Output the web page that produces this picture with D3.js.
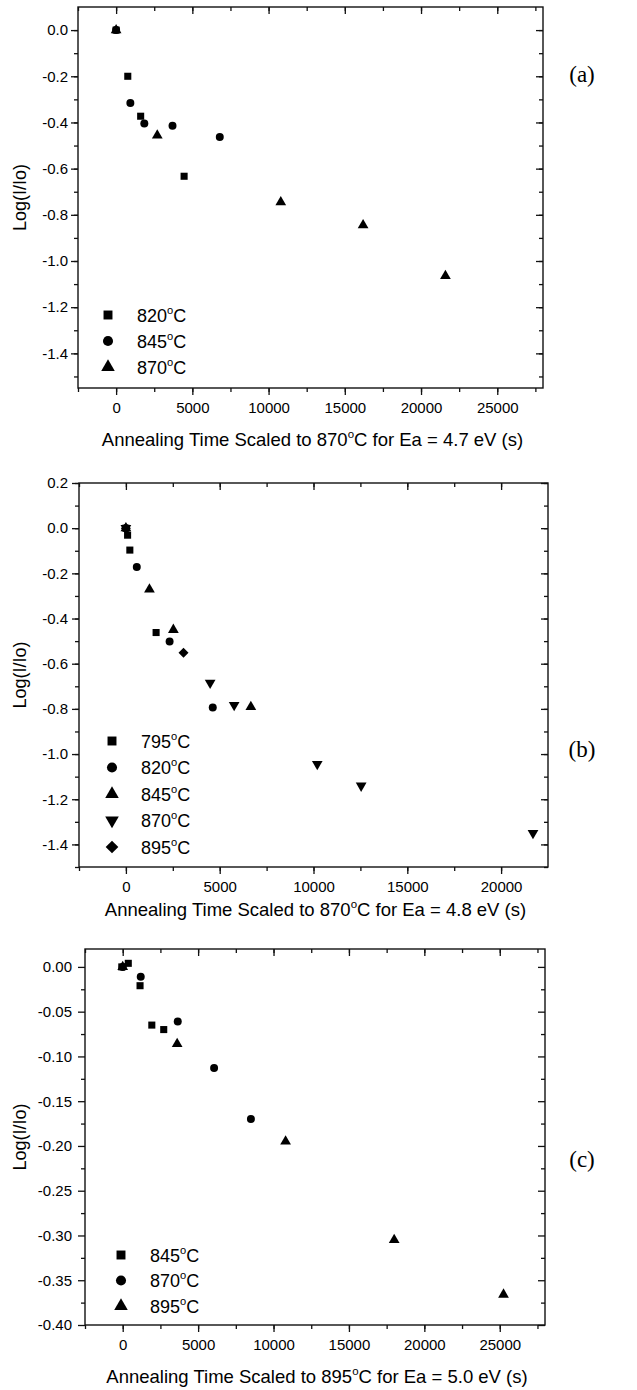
<!DOCTYPE html>
<html>
<head>
<meta charset="utf-8">
<script src="https://cdn.jsdelivr.net/npm/d3@7"></script>
<style>
  body { margin: 0; background: #fff; }
  text { font-family: "Liberation Sans", Arial, sans-serif; fill: #000; }
</style>
</head>
<body>
<div id="chart"></div>
<script>
// ---- panel (a): scaled to 870C, Ea = 4.7 eV ----
const a820 = [[0, 0], [765, -0.200], [1610, -0.373], [4460, -0.633]];
const a845 = [[0, 0], [935, -0.316], [1850, -0.405], [3700, -0.414], [6800, -0.463]];
const a870 = [[0, 0], [2700, -0.456], [10800, -0.745], [16200, -0.845], [21600, -1.065]];
const aLegend = ["820", "845", "870"];
const aXTicks = [0, 5000, 10000, 15000, 20000, 25000];
const aYTicks = [0.0, -0.2, -0.4, -0.6, -0.8, -1.0, -1.2, -1.4];

// ---- panel (b): scaled to 870C, Ea = 4.8 eV ----
const b795 = [[0, 0], [90, -0.031], [210, -0.097], [1610, -0.462]];
const b820 = [[0, 0], [580, -0.172], [2330, -0.502], [4630, -0.794]];
const b845 = [[0, 0], [1255, -0.271], [2530, -0.450], [6660, -0.791]];
const b870 = [[0, 0], [4490, -0.685], [5770, -0.783], [10200, -1.044], [12540, -1.140], [21700, -1.350]];
const b895 = [[0, 0], [3070, -0.551]];
const bLegend = ["795", "820", "845", "870", "895"];
const bXTicks = [0, 5000, 10000, 15000, 20000];
const bYTicks = [0.2, 0.0, -0.2, -0.4, -0.6, -0.8, -1.0, -1.2, -1.4];

// ---- panel (c): scaled to 895C, Ea = 5.0 eV ----
const c845 = [[-60, 0], [370, 0.004], [1150, -0.021], [1930, -0.065], [2720, -0.070]];
const c870 = [[0, 0], [1195, -0.011], [3650, -0.061], [6060, -0.113], [8500, -0.170]];
const c895 = [[0, 0], [3610, -0.086], [10800, -0.195], [18000, -0.305], [25250, -0.366]];
const cLegend = ["845", "870", "895"];
const cXTicks = [0, 5000, 10000, 15000, 20000, 25000];
const cYTicks = [0.00, -0.05, -0.10, -0.15, -0.20, -0.25, -0.30, -0.35, -0.40];

const svg = d3.select("#chart")
  .append("svg")
  .attr("width", 637)
  .attr("height", 1390);

// marker shapes (same order as the legends)
const shapes = [
  { type: d3.symbolSquare, rot: 0 },
  { type: d3.symbolCircle, rot: 0 },
  { type: d3.symbolTriangle, rot: 0 },
  { type: d3.symbolTriangle, rot: 180 },
  { type: d3.symbolSquare, rot: 45 }
];

function markerPath(i, size) {
  return d3.symbol().type(shapes[i].type).size(size)();
}

// text with a superscript "o" for the degree sign
function degText(sel, before, after, fs) {
  sel.append("tspan").text(before);
  sel.append("tspan").text("o").attr("font-size", fs * 0.62).attr("dy", -fs * 0.42);
  sel.append("tspan").text(after).attr("dy", fs * 0.42);
}

function drawPanel(p) {
  const x = d3.scaleLinear().domain(p.xDomain).range([p.left, p.right]);
  const y = d3.scaleLinear().domain(p.yDomain).range([p.bottom, p.top]);
  const g = svg.append("g");
  const noDomain = s => s.select(".domain").remove();

  // bottom axis (ticks outside) with labels
  g.append("g")
    .attr("transform", `translate(0,${p.bottom})`)
    .call(d3.axisBottom(x).tickValues(p.xTicks).tickSize(7).tickPadding(7).tickFormat(d3.format("d")))
    .call(noDomain)
    .attr("font-size", 15);
  g.append("g")
    .attr("transform", `translate(0,${p.bottom})`)
    .call(d3.axisBottom(x).tickValues(p.xMinor).tickSize(4).tickFormat(""))
    .call(noDomain);

  // top axis, ticks pointing in
  g.append("g")
    .attr("transform", `translate(0,${p.top})`)
    .call(d3.axisTop(x).tickValues(p.xTicks).tickSize(-7).tickFormat(""))
    .call(noDomain);
  g.append("g")
    .attr("transform", `translate(0,${p.top})`)
    .call(d3.axisTop(x).tickValues(p.xMinor).tickSize(-4).tickFormat(""))
    .call(noDomain);

  // left axis (ticks outside) with labels
  g.append("g")
    .attr("transform", `translate(${p.left},0)`)
    .call(d3.axisLeft(y).tickValues(p.yTicks).tickSize(7).tickPadding(p.yPad).tickFormat(d => d.toFixed(p.yDigits)))
    .call(noDomain)
    .attr("font-size", 15);
  g.append("g")
    .attr("transform", `translate(${p.left},0)`)
    .call(d3.axisLeft(y).tickValues(p.yMinor).tickSize(4).tickFormat(""))
    .call(noDomain);

  // right axis, ticks pointing in
  g.append("g")
    .attr("transform", `translate(${p.right},0)`)
    .call(d3.axisRight(y).tickValues(p.yTicks).tickSize(-7).tickFormat(""))
    .call(noDomain);
  g.append("g")
    .attr("transform", `translate(${p.right},0)`)
    .call(d3.axisRight(y).tickValues(p.yMinor).tickSize(-4).tickFormat(""))
    .call(noDomain);

  g.selectAll(".tick line").attr("stroke", "#111").attr("stroke-width", 1.3);

  // frame
  g.append("rect")
    .attr("x", p.left)
    .attr("y", p.top)
    .attr("width", p.right - p.left)
    .attr("height", p.bottom - p.top)
    .attr("fill", "none")
    .attr("stroke", "#111")
    .attr("stroke-width", 1.4);

  // data points
  p.series.forEach((data, i) => {
    g.selectAll(null)
      .data(data)
      .enter()
      .append("path")
      .attr("d", markerPath(i, 50))
      .attr("transform", d => `translate(${x(d[0])},${y(d[1])}) rotate(${shapes[i].rot})`)
      .attr("fill", "#000");
  });

  // legend
  p.legend.forEach((label, i) => {
    const ly = p.legendY + i * p.legendStep;
    g.append("path")
      .attr("d", markerPath(i, 80))
      .attr("transform", `translate(${p.legendX},${ly}) rotate(${shapes[i].rot})`)
      .attr("fill", "#000");
    g.append("text")
      .attr("x", p.legendX + 29)
      .attr("y", ly + 6.5)
      .attr("font-size", 18)
      .call(t => degText(t, label, "C", 18));
  });

  // axis titles
  g.append("text")
    .attr("x", (p.left + p.right) / 2 + 2)
    .attr("y", p.xTitleY)
    .attr("text-anchor", "middle")
    .attr("font-size", 18.5)
    .call(t => degText(t, "Annealing Time Scaled to " + p.refTemp, "C for Ea = " + p.ea + " eV (s)", 18.5));

  g.append("text")
    .attr("transform", `translate(26,${(p.top + p.bottom) / 2}) rotate(-90)`)
    .attr("text-anchor", "middle")
    .attr("font-size", 18)
    .text("Log(I/Io)");

  // panel tag
  g.append("text")
    .attr("x", 582)
    .attr("y", p.tagY)
    .attr("text-anchor", "middle")
    .attr("font-size", 23)
    .style("font-family", "'Liberation Serif', 'Times New Roman', serif")
    .text(p.tag);
}

drawPanel({
  left: 78, right: 543, top: 7, bottom: 388,
  xDomain: [-2500, 28000], yDomain: [-1.55, 0.1],
  xTicks: aXTicks, xMinor: d3.range(-2500, 28000, 2500),
  yTicks: aYTicks, yMinor: d3.range(-1.5, 0.1, 0.1).map(v => +v.toFixed(2)),
  yDigits: 1, yPad: 3,
  series: [a820, a845, a870], legend: aLegend,
  legendX: 108, legendY: 315, legendStep: 26,
  xTitleY: 446, refTemp: "870", ea: "4.7",
  tag: "(a)", tagY: 82
});

drawPanel({
  left: 79, right: 548, top: 483, bottom: 867,
  xDomain: [-2500, 22500], yDomain: [-1.5, 0.2],
  xTicks: bXTicks, xMinor: d3.range(-2500, 22500, 2500),
  yTicks: bYTicks, yMinor: d3.range(-1.5, 0.25, 0.1).map(v => +v.toFixed(2)),
  yDigits: 1, yPad: 4,
  series: [b795, b820, b845, b870, b895], legend: bLegend,
  legendX: 112, legendY: 741, legendStep: 26.5,
  xTitleY: 916, refTemp: "870", ea: "4.8",
  tag: "(b)", tagY: 757
});

drawPanel({
  left: 85, right: 545, top: 949, bottom: 1325,
  xDomain: [-2500, 28000], yDomain: [-0.4, 0.02],
  xTicks: cXTicks, xMinor: d3.range(-2500, 28000, 2500),
  yTicks: cYTicks, yMinor: d3.range(-0.375, 0.02, 0.05).map(v => +v.toFixed(3)),
  yDigits: 2, yPad: 6,
  series: [c845, c870, c895], legend: cLegend,
  legendX: 121, legendY: 1255, legendStep: 25.5,
  xTitleY: 1383, refTemp: "895", ea: "5.0",
  tag: "(c)", tagY: 1167
});
</script>
</body>
</html>
